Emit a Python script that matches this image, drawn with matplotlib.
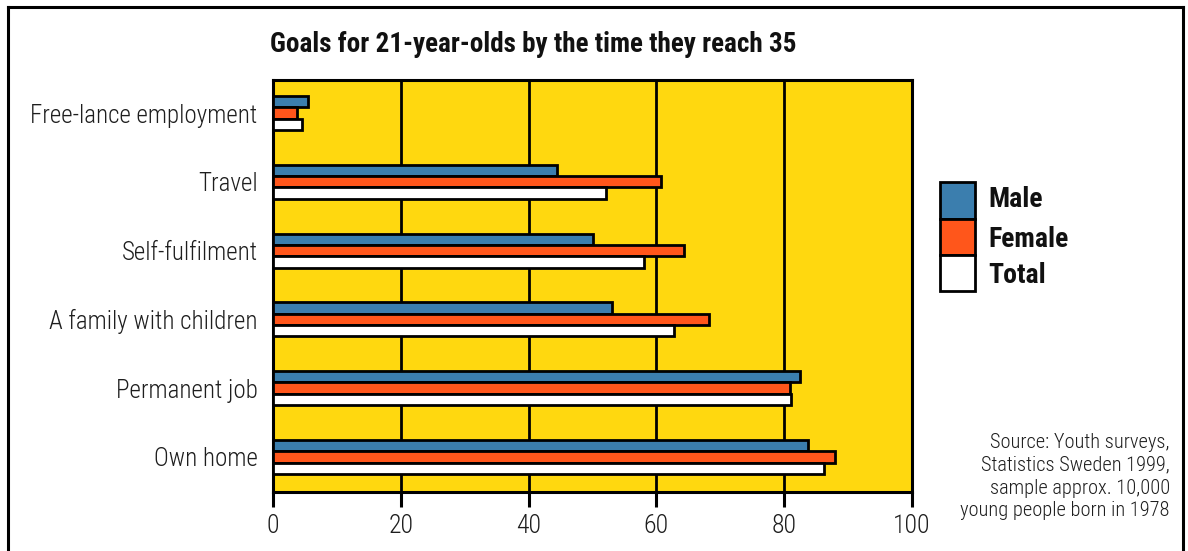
import matplotlib
matplotlib.use("Agg")
import matplotlib.pyplot as plt
from matplotlib import font_manager as fm
from matplotlib.patches import Rectangle
from matplotlib.lines import Line2D
import numpy as np

# Survey data (percent)
categories = ["Free-lance employment", "Travel", "Self-fulfilment",
              "A family with children", "Permanent job", "Own home"]
male = [5.4, 44.4, 50.1, 53.0, 82.5, 83.7]
female = [3.7, 60.7, 64.3, 68.2, 80.9, 88.0]
total = [4.5, 52.1, 58.0, 62.7, 81.0, 86.3]
series_names = ["Male", "Female", "Total"]
x_ticks = [0, 20, 40, 60, 80, 100]

title = "Goals for 21-year-olds by the time they reach 35"
source_lines = ["Source: Youth surveys,", "Statistics Sweden 1999,",
                "sample approx. 10,000", "young people born in 1978"]

YELLOW = "#FFD80F"
BLUE = "#3B7EAE"
ORANGE = "#FF561B"
WHITE = "#FFFFFF"
colors = [BLUE, ORANGE, WHITE]

# Narrow sans-serif face for all chart text
_installed = {f.name for f in fm.fontManager.ttflist}
_preferred = ["Roboto Condensed", "Open Sans Condensed", "Fira Sans Condensed",
              "IBM Plex Sans Condensed", "Archivo Narrow", "Asap Condensed",
              "Liberation Sans Narrow"]
NARROW = next((n for n in _preferred if n in _installed), "DejaVu Sans")
FONT = [NARROW, "DejaVu Sans"]
TXT = "#1e1e1e"

W, H = 1188, 551
fig = plt.figure(figsize=(W / 100, H / 100), dpi=100)


def px_axes(x0, y0, x1, y1):
    return [x0 / W, 1 - y1 / H, (x1 - x0) / W, (y1 - y0) / H]


ax = fig.add_axes(px_axes(273, 80, 912, 492))
ax.set_facecolor(YELLOW)

y = np.arange(len(categories))
bh = 0.165
for i, (vals, c) in enumerate(zip([male, female, total], colors)):
    ax.barh(y + (i - 1) * bh, vals, height=bh, color=c,
            edgecolor="black", linewidth=2.0, zorder=3)

ax.set_xlim(0, 100)
ax.set_ylim(5.51, -0.48)
ax.set_xticks(x_ticks)
ax.set_xticklabels([str(t) for t in x_ticks], fontfamily=FONT, fontsize=18.5,
                   fontweight="light", color=TXT)
ax.set_yticks(y)
ax.set_yticklabels(categories, fontfamily=FONT, fontsize=18,
                   fontweight="light", color=TXT)
ax.tick_params(axis="y", length=0, pad=11)
ax.tick_params(axis="x", direction="out", length=11, width=2.2, pad=5,
               color="black")
ax.grid(axis="x", color="black", linewidth=2.0, zorder=1)
ax.set_axisbelow(True)
for s in ax.spines.values():
    s.set_linewidth(2.2)
    s.set_color("black")

# Title
fig.text(270 / W, 1 - 52 / H, title, fontfamily=FONT, fontweight="bold",
         fontsize=19.5, ha="left", va="baseline", color="#111111")

# Legend swatches
sw_x0, sw_w = 940, 35
sw_edges = [182, 219, 255, 291]
baselines = [207, 247, 283]
for k, (c, name) in enumerate(zip(colors, series_names)):
    top, bot = sw_edges[k], sw_edges[k + 1]
    fig.add_artist(Rectangle((sw_x0 / W, 1 - bot / H), sw_w / W,
                             (bot - top) / H, facecolor=c, edgecolor="black",
                             linewidth=2.0, transform=fig.transFigure))
    fig.text(988 / W, 1 - baselines[k] / H, name, fontfamily=FONT,
             fontweight="bold", fontsize=20, ha="left", va="baseline",
             color="#111111")

# Source note
for k, line in enumerate(source_lines):
    fig.text(1170 / W, 1 - (442 + 23 * k) / H, line, fontfamily=FONT,
             fontsize=14.7, fontweight="light", ha="right", va="center",
             color=TXT)

# Outer frame
fr = dict(color="black", linewidth=2.2, transform=fig.transFigure)
fig.add_artist(Line2D([8 / W, 8 / W], [0, 1 - 7 / H], **fr))
fig.add_artist(Line2D([8 / W, 1183 / W], [1 - 7 / H, 1 - 7 / H], **fr))
fig.add_artist(Line2D([1183 / W, 1183 / W], [0, 1 - 7 / H], **fr))

fig.savefig("out.png", dpi=100, facecolor="white")
